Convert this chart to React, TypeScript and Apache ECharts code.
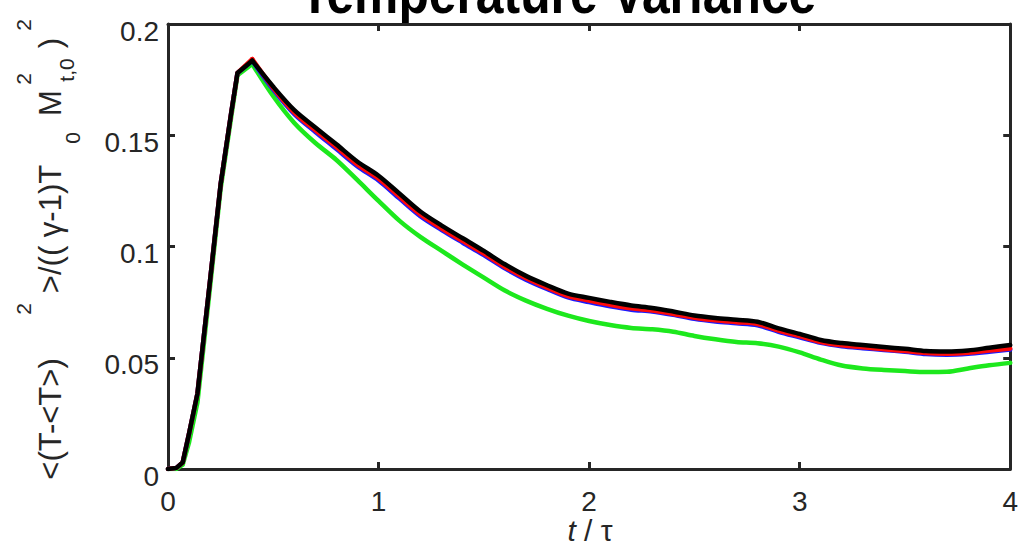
import React, { useEffect, useRef } from "react";
import * as echarts from "echarts";

// Normalised time t / tau
const timeAxis = [
  0, 0.04, 0.07, 0.1, 0.14, 0.2, 0.25, 0.3, 0.33, 0.4,
  0.5, 0.6, 0.7, 0.8, 0.9, 1.0, 1.1, 1.2, 1.3, 1.4,
  1.5, 1.6, 1.7, 1.8, 1.9, 2.0, 2.1, 2.2, 2.3, 2.4,
  2.5, 2.6, 2.7, 2.8, 2.9, 3.0, 3.1, 3.2, 3.3, 3.4,
  3.5, 3.6, 3.7, 3.8, 3.9, 4.0,
];
// Index of the variance peak: the rise is drawn with straight segments, the decay smoothed
const peakIndex = 9;

// Temperature variance for the four runs
const varianceGreen = [
  0, 0, 0.002, 0.012, 0.03, 0.082, 0.126, 0.158, 0.177, 0.182,
  0.1675, 0.1555, 0.1465, 0.1389, 0.1298, 0.1205, 0.1115, 0.1042, 0.098, 0.0919,
  0.086, 0.0802, 0.0757, 0.072, 0.0689, 0.0665, 0.0647, 0.0634, 0.0628, 0.0617,
  0.0598, 0.0583, 0.0571, 0.0565, 0.055, 0.0524, 0.0492, 0.0465, 0.0452, 0.0445,
  0.044, 0.0436, 0.0437, 0.0452, 0.0466, 0.0477,
];
const varianceBlue = [
  0, 0.0005, 0.003, 0.016, 0.034, 0.085, 0.128, 0.16, 0.178, 0.1835,
  0.1705, 0.1595, 0.1515, 0.1438, 0.136, 0.1297, 0.1215, 0.1135, 0.1074, 0.1017,
  0.0961, 0.0902, 0.0851, 0.0809, 0.0771, 0.075, 0.0731, 0.0716, 0.0708, 0.0693,
  0.0675, 0.0663, 0.0655, 0.0646, 0.0617, 0.0592, 0.0567, 0.0552, 0.0543, 0.0535,
  0.0527, 0.0517, 0.0514, 0.0518, 0.0527, 0.0537,
];
const varianceRed = [
  0, 0.0005, 0.003, 0.016, 0.034, 0.085, 0.128, 0.16, 0.178, 0.1842,
  0.1712, 0.1602, 0.1522, 0.1446, 0.1368, 0.1305, 0.1223, 0.1143, 0.1081, 0.1024,
  0.0968, 0.0908, 0.0857, 0.0815, 0.0777, 0.0757, 0.0738, 0.0722, 0.0712, 0.0697,
  0.068, 0.0668, 0.066, 0.0652, 0.0622, 0.0597, 0.0571, 0.0556, 0.0547, 0.0538,
  0.053, 0.0521, 0.0518, 0.0522, 0.0532, 0.0542,
];
const varianceBlack = [
  0, 0.0005, 0.003, 0.016, 0.034, 0.085, 0.128, 0.16, 0.178, 0.1835,
  0.1718, 0.1613, 0.1535, 0.1459, 0.1381, 0.1318, 0.1237, 0.1156, 0.1094, 0.1037,
  0.098, 0.092, 0.0868, 0.0826, 0.0788, 0.0769, 0.0751, 0.0735, 0.0724, 0.0708,
  0.069, 0.0679, 0.0671, 0.0662, 0.0632, 0.0607, 0.058, 0.0566, 0.0557, 0.0548,
  0.054, 0.053, 0.0528, 0.0533, 0.0545, 0.0557,
];

const xRange = { min: 0, max: 4, step: 1 };
const yRange = { min: 0, max: 0.2, step: 0.05 };

export default function App() {
  const ref = useRef<HTMLDivElement>(null);

  useEffect(() => {
    if (!ref.current) return;
    const chart = echarts.init(ref.current, undefined, { renderer: "svg" });
    const font = "'Liberation Sans', Arial, Helvetica, sans-serif";
    const ink = "#262626";

    const pairs = (ys: number[], from: number, to: number) =>
      timeAxis.slice(from, to).map((t, i) => [t, ys[from + i]]);

    // each run: straight rise up to the peak, smoothed decay after it
    const curves = (name: string, color: string, ys: number[], z: number) =>
      [
        { data: pairs(ys, 0, peakIndex + 1), smooth: false },
        { data: pairs(ys, peakIndex, timeAxis.length), smooth: 0.3 },
      ].map((part, k) => ({
        type: "line",
        name: `${name}-${k}`,
        data: part.data,
        smooth: part.smooth,
        symbol: "none",
        showSymbol: false,
        lineStyle: { color, width: 4.5, cap: "round", join: "round" },
        itemStyle: { color },
        z,
        silent: true,
        clip: true,
      }));

    const axisLine = { show: true, onZero: false, lineStyle: { color: ink, width: 3 } };
    const axisTick = { show: true, inside: true, length: 7, lineStyle: { color: ink, width: 3 } };

    const xBase = {
      type: "value",
      min: xRange.min,
      max: xRange.max,
      interval: xRange.step,
      axisLine,
      axisTick,
      splitLine: { show: false },
    };
    const yBase = {
      type: "value",
      min: yRange.min,
      max: yRange.max,
      interval: yRange.step,
      axisLine,
      axisTick,
      splitLine: { show: false },
    };

    const labelText = (text: string, x: number, y: number, size: number) => ({
      type: "text",
      x,
      y,
      rotation: Math.PI / 2,
      silent: true,
      style: {
        text,
        font: `${size}px ${font}`,
        fill: ink,
        align: "center",
        verticalAlign: "middle",
      },
    });

    chart.setOption({
      animation: false,
      backgroundColor: "#ffffff",
      grid: { left: 168, right: 8, top: 24, bottom: 81, containLabel: false },
      xAxis: [
        {
          ...xBase,
          position: "bottom",
          axisLabel: { fontSize: 28, color: ink, fontFamily: font, margin: 18 },
        },
        { ...xBase, position: "top", axisLabel: { show: false } },
      ],
      yAxis: [
        {
          ...yBase,
          position: "left",
          axisLabel: {
            fontSize: 28,
            color: ink,
            fontFamily: font,
            margin: 9,
            verticalAlign: "top",
            lineHeight: 14,
          },
        },
        { ...yBase, position: "right", axisLabel: { show: false } },
      ],
      series: [
        ...curves("green", "#1de81d", varianceGreen, 2),
        ...curves("blue", "#1a1aff", varianceBlue, 3),
        ...curves("red", "#ff0a0a", varianceRed, 4),
        ...curves("black", "#000000", varianceBlack, 5),
      ],
      graphic: [
        {
          type: "text",
          x: 558,
          y: -8,
          scaleX: 0.83,
          silent: true,
          style: {
            text: "Temperature Variance",
            font: `bold 60px ${font}`,
            fill: "#000000",
            align: "center",
            verticalAlign: "middle",
          },
        },
        labelText("<(T-<T>)", 50, 419, 31),
        labelText("2", 23, 309, 21),
        labelText(">/(( γ-1)T", 50, 229, 31),
        labelText("0", 72, 138, 21),
        labelText("M", 50, 103, 31),
        labelText("2", 23, 79, 21),
        labelText("t,0", 66, 70, 21),
        labelText(")", 50, 43, 31),
        labelText("2", 23, 25, 21),
        {
          type: "text",
          x: 590,
          y: 530,
          silent: true,
          style: {
            text: "{it|t} / τ",
            font: `30px ${font}`,
            fill: ink,
            align: "center",
            verticalAlign: "middle",
            rich: {
              it: { fontStyle: "italic", fontSize: 30, fontFamily: font, fill: ink },
            },
          },
        },
      ],
    });

    return () => chart.dispose();
  }, []);

  return (
    <div
      ref={ref}
      style={{ position: "fixed", left: 0, top: 0, width: 1021, height: 550 }}
    />
  );
}
